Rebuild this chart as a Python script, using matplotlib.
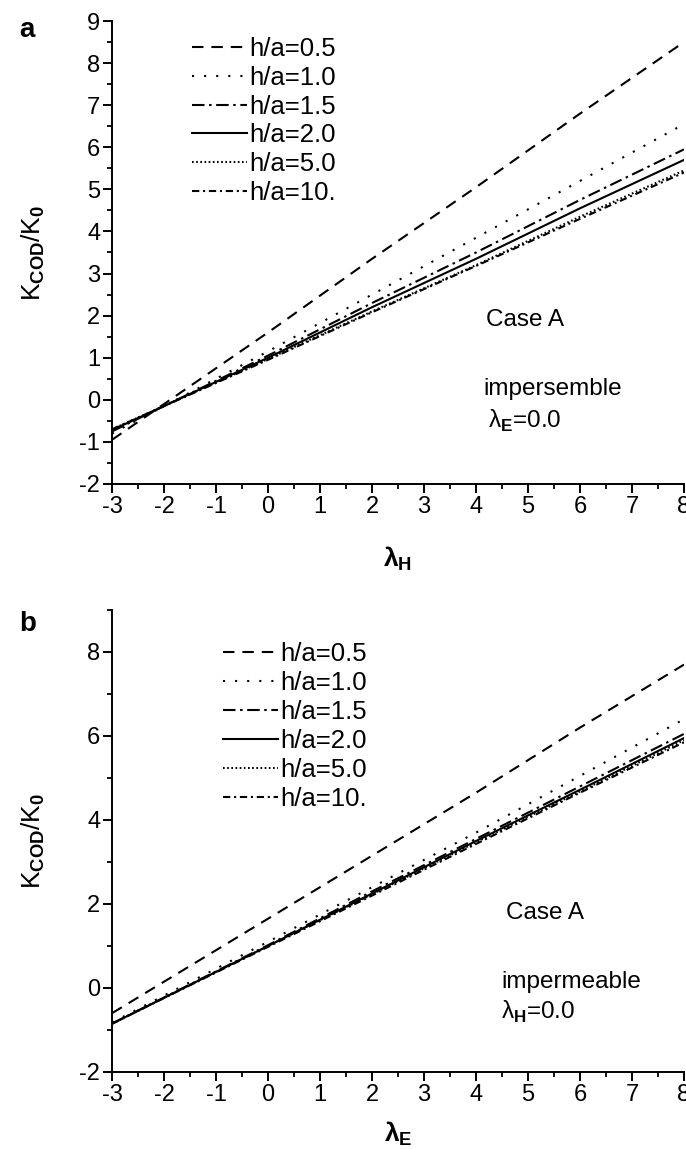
import numpy as np
import matplotlib
matplotlib.use("Agg")
import matplotlib.pyplot as plt
from matplotlib.ticker import MultipleLocator

plt.rcParams["font.family"] = ["Liberation Sans", "DejaVu Sans"]
plt.rcParams["mathtext.fontset"] = "custom"
plt.rcParams["mathtext.rm"] = "Liberation Sans"
plt.rcParams["mathtext.bf"] = "Liberation Sans:bold"
plt.rcParams["axes.unicode_minus"] = False

# values
x_pts = [-3, 0, 2, 4, 6, 8]
labels = ["h/a=0.5", "h/a=1.0", "h/a=1.5", "h/a=2.0", "h/a=5.0", "h/a=10."]

# panel a: K_COD/K_0 vs lambda_H (lambda_E = 0)
a_05 = [-0.95, 1.60, 3.35, 5.05, 6.80, 8.50]
a_10 = [-0.80, 1.15, 2.50, 3.85, 5.20, 6.55]
a_15 = [-0.75, 1.05, 2.30, 3.50, 4.75, 5.95]
a_20 = [-0.72, 1.00, 2.20, 3.35, 4.55, 5.70]
a_50 = [-0.70, 0.97, 2.10, 3.20, 4.35, 5.45]
a_100 = [-0.70, 0.95, 2.08, 3.18, 4.30, 5.40]

# panel b: K_COD/K_0 vs lambda_E (lambda_H = 0)
b_05 = [-0.60, 1.65, 3.15, 4.65, 6.20, 7.70]
b_10 = [-0.82, 1.10, 2.40, 3.70, 5.05, 6.40]
b_15 = [-0.85, 1.02, 2.30, 3.55, 4.80, 6.05]
b_20 = [-0.85, 1.00, 2.25, 3.50, 4.72, 5.95]
b_50 = [-0.85, 1.00, 2.23, 3.47, 4.68, 5.90]
b_100 = [-0.85, 0.98, 2.20, 3.43, 4.65, 5.85]

styles = [
    (0, (5.5, 3.8)),
    (0, (1, 4.8)),
    (0, (6, 2.2, 1.2, 2.2)),
    "-",
    (0, (0.8, 1.2)),
    (0, (3.5, 1.8, 1, 1.8)),
]

fig = plt.figure(figsize=(6.86, 11.49), dpi=100)
ax_a = fig.add_axes([0.1633, 1 - 484 / 1149, 0.8338, 463 / 1149])
ax_b = fig.add_axes([0.1633, 1 - 1072 / 1149, 0.8338, 462 / 1149])


def style_axes(ax, ymaj):
    ax.set_xlim(-3, 8)
    ax.spines["top"].set_visible(False)
    ax.spines["right"].set_visible(False)
    for s in ("left", "bottom"):
        ax.spines[s].set_linewidth(1.4)
    ax.xaxis.set_major_locator(MultipleLocator(1))
    ax.xaxis.set_minor_locator(MultipleLocator(0.5))
    ax.yaxis.set_major_locator(MultipleLocator(ymaj))
    ax.yaxis.set_minor_locator(MultipleLocator(ymaj / 2))
    ax.tick_params(which="major", direction="out", length=6.5, width=1.4, labelsize=17, pad=2)
    ax.tick_params(which="minor", direction="out", length=3.5, width=1.3)


series_a = [a_05, a_10, a_15, a_20, a_50, a_100]
series_b = [b_05, b_10, b_15, b_20, b_50, b_100]

for ys, ls, lab in zip(series_a, styles, labels):
    ax_a.plot(x_pts, ys, color="black", lw=1.5, linestyle=ls, label=lab)
for ys, ls, lab in zip(series_b, styles, labels):
    ax_b.plot(x_pts, ys, color="black", lw=1.5, linestyle=ls, label=lab)

style_axes(ax_a, 1)
ax_a.set_ylim(-2, 9)
style_axes(ax_b, 2)
ax_b.set_ylim(-2, 9)

leg_kw = dict(frameon=False, fontsize=18.5, handlelength=2.15, handletextpad=0.08,
              labelspacing=0.19, borderpad=0, borderaxespad=0, loc="upper left")
ax_a.legend(bbox_to_anchor=(0.14, 0.966), **leg_kw)
ax_b.legend(bbox_to_anchor=(0.194, 0.930), **leg_kw)

ylab = r"K$_{\mathbf{COD}}$/K$_{\mathbf{0}}$"
for ax in (ax_a, ax_b):
    ax.set_ylabel(ylab, fontsize=19)
    ax.yaxis.set_label_coords(-0.114, 0.5)
ax_a.set_xlabel(r"$\mathbf{λ}_{\mathbf{H}}$", fontsize=19)
ax_a.xaxis.set_label_coords(0.5, -0.131)
ax_b.set_xlabel(r"$\mathbf{λ}_{\mathbf{E}}$", fontsize=19)
ax_b.xaxis.set_label_coords(0.5, -0.103)

ax_a.text(4.2, 1.9, "Case A", fontsize=17.5, va="center")
ax_a.text(4.14, 0.25, "impersemble", fontsize=17.5, va="center")
ax_a.text(4.23, -0.5, r"λ$_{\mathbf{E}}$=0.0", fontsize=17.5, va="center")

ax_b.text(4.58, 1.78, "Case A", fontsize=17.5, va="center")
ax_b.text(4.48, 0.14, "impermeable", fontsize=17.5, va="center")
ax_b.text(4.48, -0.57, r"λ$_{\mathbf{H}}$=0.0", fontsize=17.5, va="center")

fig.text(0.028, 1 - 30 / 1149, "a", fontsize=20, fontweight="bold", va="center")
fig.text(0.028, 1 - 624 / 1149, "b", fontsize=20, fontweight="bold", va="center")

fig.savefig("out.png", dpi=100)
